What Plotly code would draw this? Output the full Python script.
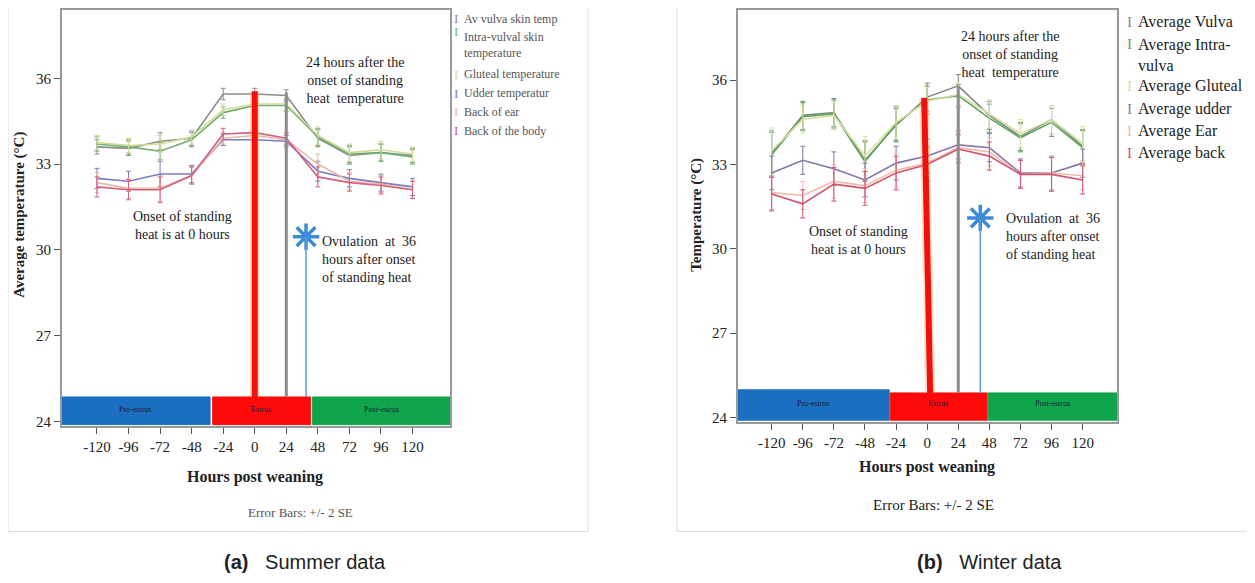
import plotly.graph_objects as go

hours = [-120, -96, -72, -48, -24, 0, 24, 48, 72, 96, 120]
tick_labels = ["-120", "-96", "-72", "-48", "-24", "0", "24", "48", "72", "96", "120"]
y_ticks = [24, 27, 30, 33, 36]

# Summer (a)
s_vulva = [33.6, 33.55, 33.8, 33.9, 35.45, 35.45, 35.4, 33.9, 33.3, 33.4, 33.3]
s_intra = [33.7, 33.6, 33.45, 33.85, 34.8, 35.05, 35.05, 33.95, 33.35, 33.4, 33.25]
s_gluteal = [33.75, 33.65, 33.7, 33.95, 34.9, 35.1, 35.1, 34.0, 33.4, 33.5, 33.35]
s_udder = [32.5, 32.4, 32.65, 32.65, 33.85, 33.85, 33.8, 32.75, 32.5, 32.35, 32.2]
s_ear = [32.35, 32.15, 32.15, 32.6, 33.9, 34.0, 33.85, 33.0, 32.4, 32.3, 32.1]
s_back = [32.2, 32.1, 32.1, 32.6, 34.05, 34.1, 33.9, 32.55, 32.35, 32.25, 32.1]
s_err_top = [0.25, 0.25, 0.3, 0.25, 0.2, 0.2, 0.2, 0.3, 0.3, 0.3, 0.25]
s_err_low = [0.35, 0.35, 0.45, 0.3, 0.2, 0.2, 0.2, 0.35, 0.3, 0.3, 0.3]
s_names = ["Av vulva skin temp", "Intra-vulval skin<br>temperature", "Gluteal temperature",
           "Udder temperatur", "Back of ear", "Back of the body"]

# Winter (b)
w_vulva = [33.4, 34.75, 34.85, 33.15, 34.4, 35.4, 35.8, 34.75, 34.0, 34.6, 33.65]
w_intra = [33.35, 34.7, 34.8, 33.1, 34.45, 35.3, 35.45, 34.65, 33.95, 34.5, 33.6]
w_gluteal = [33.5, 34.6, 34.75, 33.3, 34.5, 35.25, 35.5, 34.8, 34.1, 34.6, 33.75]
w_udder = [32.7, 33.15, 32.85, 32.45, 33.05, 33.3, 33.7, 33.6, 32.7, 32.7, 33.05]
w_ear = [32.0, 31.9, 32.4, 32.25, 32.8, 33.05, 33.6, 33.45, 32.65, 32.7, 32.6]
w_back = [31.95, 31.6, 32.3, 32.15, 32.7, 33.0, 33.55, 33.3, 32.65, 32.65, 32.45]
w_err_top = [0.8, 0.5, 0.5, 0.7, 0.6, 0.5, 0.4, 0.5, 0.5, 0.5, 0.6]
w_err_low = [0.6, 0.5, 0.6, 0.6, 0.6, 0.6, 0.5, 0.5, 0.5, 0.6, 0.5]
w_names = ["Average Vulva", "Average Intra-<br>vulva", "Average Gluteal",
           "Average udder", "Average Ear", "Average back"]

s_colors = ["#8a8f8a", "#6fae6f", "#cfdc98", "#7c7cc0", "#eab8a8", "#d4607c"]
w_colors = ["#7f8a84", "#5ea55e", "#d8e2a4", "#8474ac", "#f0bcae", "#d2506e"]

SERIF = "Liberation Serif"
OFF = 8                     # page body margin
W, H = 1255 - 2 * OFF, 583 - 2 * OFF

fig = go.Figure()


def add_panel(series, errs, colors, xa, ya):
    for vals, err, col in zip(series, errs, colors):
        fig.add_trace(go.Scatter(
            x=hours, y=vals, mode="lines", xaxis=xa, yaxis=ya,
            line=dict(color=col, width=1.6), showlegend=False,
            error_y=dict(type="data", array=err, color=col, thickness=1, width=2.5),
        ))


add_panel([s_vulva, s_intra, s_gluteal, s_udder, s_ear, s_back],
          [s_err_top] * 3 + [s_err_low] * 3, s_colors, "x", "y")
add_panel([w_vulva, w_intra, w_gluteal, w_udder, w_ear, w_back],
          [w_err_top] * 3 + [w_err_low] * 3, w_colors, "x2", "y2")


def px(xp):
    return (xp - OFF) / W


def py(yp):
    return 1 - (yp - OFF) / H


axis_common = dict(showgrid=False, zeroline=False, ticks="outside", ticklen=6,
                   tickcolor="#555", linecolor="#999", linewidth=2, mirror=True,
                   tickfont=dict(family=SERIF, size=15, color="#222"), showline=True)

fig.update_layout(
    width=W, height=H, margin=dict(l=0, r=0, t=0, b=0),
    paper_bgcolor="white", plot_bgcolor="white",
    xaxis=dict(domain=[px(62), px(450)], range=[-146.6, 148.5], tickvals=hours,
               ticktext=tick_labels, anchor="y", **axis_common),
    yaxis=dict(domain=[py(428), py(8)], range=[23.85, 38.39], tickvals=y_ticks,
               anchor="x", **axis_common),
    xaxis2=dict(domain=[px(738), px(1117)], range=[-146, 146.5], tickvals=hours,
                ticktext=tick_labels, anchor="y2", **axis_common),
    yaxis2=dict(domain=[py(424), py(8)], range=[23.85, 38.5], tickvals=y_ticks,
                anchor="x2", **axis_common),
)

shapes = []
# outer frames
shapes.append(dict(type="rect", xref="paper", yref="paper", x0=px(8), x1=px(588), y0=py(535), y1=py(5),
                   line=dict(color="#dcdcdc", width=1), layer="below"))
shapes.append(dict(type="rect", xref="paper", yref="paper", x0=px(677), x1=px(1262), y0=py(535), y1=py(5),
                   line=dict(color="#dcdcdc", width=1), layer="below"))


def phase_boxes(xr, yr, spans, tops, bottom):
    cols = ["#1b6fc0", "#ff0a0a", "#10a54a"]
    for (a, b), top, c in zip(spans, tops, cols):
        shapes.append(dict(type="rect", xref=xr, yref=yr, x0=a, x1=b, y0=bottom, y1=top,
                           line=dict(color=c, width=1), fillcolor=c, layer="above"))


phase_boxes("x", "y", [(-146.6, -34), (-32, 42.5), (44, 148.5)], [24.85, 24.85, 24.85], 23.88)
phase_boxes("x2", "y2", [(-146, -29.3), (-28.5, 46.3), (47, 146.5)], [24.98, 24.87, 24.87], 23.9)

# vertical marker lines summer
shapes += [
    dict(type="line", xref="x", yref="y", x0=0, x1=0, y0=24.85, y1=35.55,
         line=dict(color="rgba(255,170,80,0.35)", width=10)),
    dict(type="line", xref="x", yref="y", x0=0, x1=0, y0=24.85, y1=35.55,
         line=dict(color="#f01010", width=6)),
    dict(type="line", xref="x", yref="y", x0=24, x1=24, y0=24.85, y1=35.5,
         line=dict(color="#8c8c8c", width=3)),
    dict(type="line", xref="x", yref="y", x0=39, x1=39, y0=24.85, y1=30.46,
         line=dict(color="#5b9bd5", width=1.5)),
]
# vertical marker lines winter
shapes += [
    dict(type="line", xref="x2", yref="y2", x0=-2.3, x1=2.3, y0=35.37, y1=24.87,
         line=dict(color="rgba(255,170,80,0.35)", width=10)),
    dict(type="line", xref="x2", yref="y2", x0=-2.3, x1=2.3, y0=35.37, y1=24.87,
         line=dict(color="#f01010", width=6)),
    dict(type="line", xref="x2", yref="y2", x0=24, x1=24, y0=24.87, y1=35.8,
         line=dict(color="#8c8c8c", width=3)),
    dict(type="line", xref="x2", yref="y2", x0=41, x1=41, y0=24.87, y1=31.1,
         line=dict(color="#5b9bd5", width=1.5)),
]
fig.update_layout(shapes=shapes)

# ovulation stars
for xa, ya, xv, yv in [("x", "y", 39, 30.46), ("x2", "y2", 41, 31.1)]:
    fig.add_trace(go.Scatter(x=[xv], y=[yv], xaxis=xa, yaxis=ya, mode="markers", showlegend=False,
                             marker=dict(symbol="asterisk-open", size=22, color="#3c8ad8",
                                         line=dict(color="#3c8ad8", width=3.5))))
    fig.add_trace(go.Scatter(x=[xv], y=[yv], xaxis=xa, yaxis=ya, mode="markers", showlegend=False,
                             marker=dict(symbol="circle", size=9, color="#3c8ad8")))

ann = []


def text(x, y, t, size=14, color="#222", align="center", xanchor="center", family=SERIF, **kw):
    ann.append(dict(xref="paper", yref="paper", x=px(x), y=py(y), text=t, showarrow=False,
                    font=dict(family=family, size=size, color=color), align=align,
                    xanchor=xanchor, yanchor="middle", **kw))


# phase labels
for x, t in [(135, "Pro-estrus"), (261, "Estrus"), (381, "Post-estrus")]:
    text(x, 412, t, size=8, color="#1a1a40")
for x, t in [(813, "Pro-estrus"), (938, "Estrus"), (1052, "Post-estrus")]:
    text(x, 406, t, size=8, color="#1a1a40")

# annotations summer
text(355, 79, "24 hours after the<br>onset of standing<br>heat  temperature", size=14)
text(182, 226, "Onset of standing<br>heat is at 0 hours", size=14)
text(320, 260, "Ovulation  at  36<br>hours after onset<br>of standing heat", size=14, align="left", xanchor="left")
# annotations winter
text(1010, 53, "24 hours after the<br>onset of standing<br>heat  temperature", size=14)
text(858, 241, "Onset of standing<br>heat is at 0 hours", size=14)
text(1004, 237, "Ovulation  at  36<br>hours after onset<br>of standing heat", size=14, align="left", xanchor="left")

# axis titles
text(20, 215, "<b>Average temperature (°C)</b>", size=15, textangle=-90)
text(697, 215, "<b>Temperature (°C)</b>", size=15, textangle=-90)
text(255, 480, "<b>Hours post weaning</b>", size=16)
text(927, 470, "<b>Hours post weaning</b>", size=16)
text(300, 516, "Error Bars: +/- 2 SE", size=13, color="#555")
text(933, 508, "Error Bars: +/- 2 SE", size=15, color="#222")

# captions
text(305, 566, "<b>(a)</b>   Summer data", size=20, color="#222", family="Liberation Sans")
text(990, 566, "<b>(b)</b>   Winter data", size=20, color="#222", family="Liberation Sans")

# manual legends
s_leg_y = [17, 43, 73, 92, 111, 130]
for yv, name, col in zip(s_leg_y, s_names, s_colors):
    text(452, (yv - 13 if "<br>" in name else yv), "I", size=13, color=col, xanchor="left")
    text(462, yv, name, size=12, color="#555", align="left", xanchor="left")
w_leg_y = [20, 53, 85, 108, 130, 153]
for yv, name, col in zip(w_leg_y, w_names, w_colors):
    text(1125, (yv - 11 if "<br>" in name else yv), "I", size=15, color=col, xanchor="left")
    text(1136, yv, name, size=16, color="#222", align="left", xanchor="left")

fig.update_layout(annotations=ann)
fig.write_html("out.html")
